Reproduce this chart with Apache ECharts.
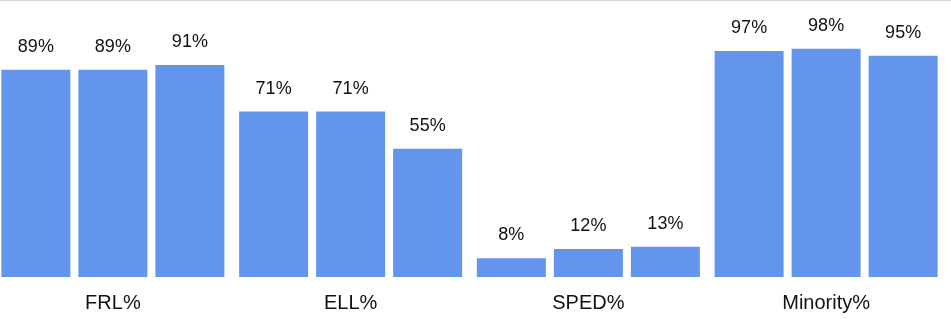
<!DOCTYPE html>
<html>
<head>
<meta charset="utf-8">
<script src="https://cdn.jsdelivr.net/npm/echarts@6/dist/echarts.min.js"></script>
<style>
  html, body { margin: 0; padding: 0; background: #fff; overflow: hidden; }
  /* shifted 6px left so the first bar group sits near the edge like the original */
  #chart { width: 957px; height: 319px; margin-left: -6px; }
</style>
</head>
<body>
<div id="chart"></div>
<script>
const categories = ['FRL%', 'ELL%', 'SPED%', 'Minority%'];
const seriesA = [89, 71, 8, 97];
const seriesB = [89, 71, 12, 98];
const seriesC = [91, 55, 13, 95];

const chart = echarts.init(document.getElementById('chart'));

function barSeries(name, data) {
  return {
    name: name,
    type: 'bar',
    data: data,
    barWidth: 69,
    barGap: '11.6%',
    itemStyle: { color: '#6495ED' },
    label: {
      show: true,
      position: 'top',
      distance: 14,
      formatter: '{c}%',
      color: '#111',
      fontSize: 18,
      fontFamily: 'Liberation Sans, Arial, sans-serif'
    }
  };
}

chart.setOption({
  animation: false,
  grid: { left: 0, right: 6, top: 44, bottom: 42 },
  xAxis: {
    type: 'category',
    data: categories,
    axisLine: { show: false },
    axisTick: { show: false },
    axisLabel: {
      margin: 16,
      color: '#111',
      fontSize: 20,
      fontFamily: 'Liberation Sans, Arial, sans-serif'
    }
  },
  yAxis: {
    type: 'value',
    min: 0,
    max: 100,
    show: false,
    splitLine: { show: false }
  },
  graphic: [{
    type: 'line',
    shape: { x1: 0, y1: 0.5, x2: 957, y2: 0.5 },
    style: { stroke: '#d6d6d6', lineWidth: 1 }
  }],
  series: [
    barSeries('A', seriesA),
    barSeries('B', seriesB),
    barSeries('C', seriesC)
  ]
});
</script>
</body>
</html>
